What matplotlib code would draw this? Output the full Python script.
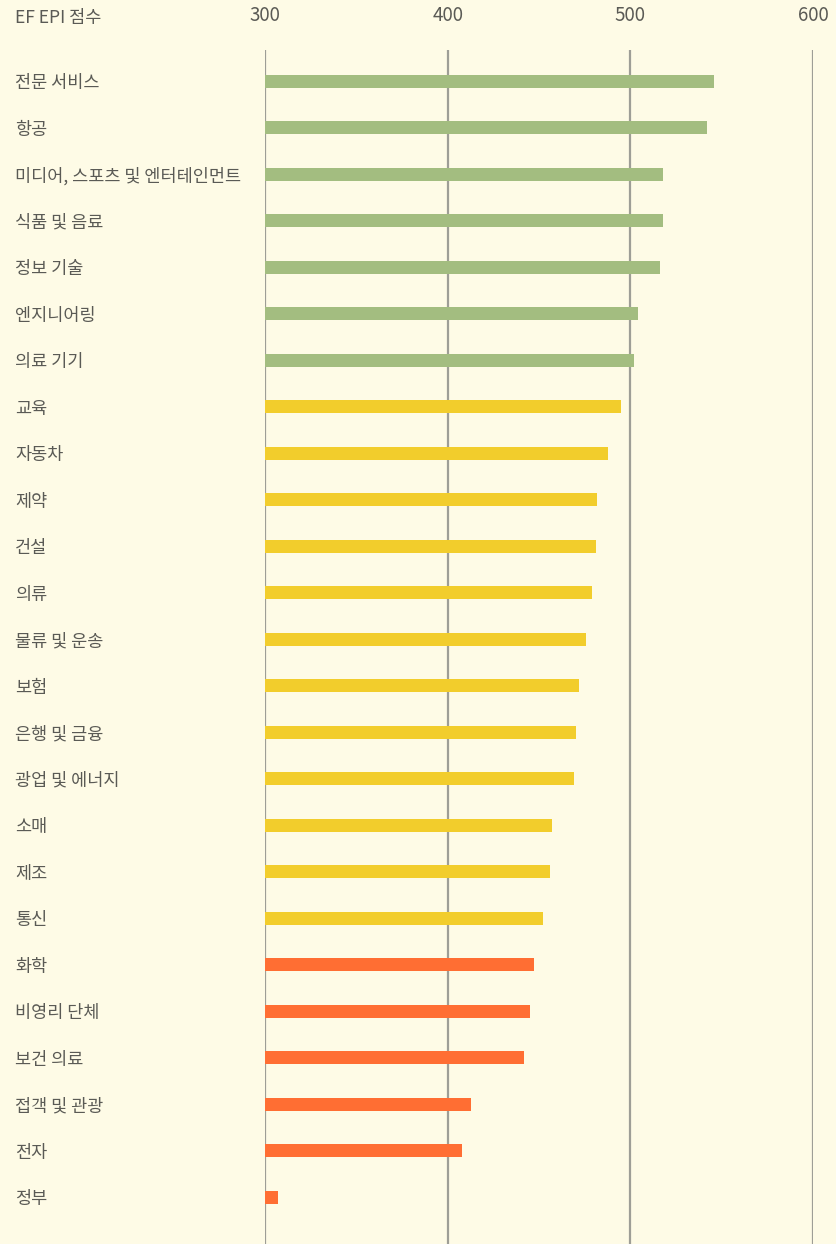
import matplotlib.pyplot as plt
import numpy as np

plt.rcParams['font.family'] = ['Noto Sans CJK KR', 'DejaVu Sans']

industries = ["전문 서비스", "항공", "미디어, 스포츠 및 엔터테인먼트", "식품 및 음료", "정보 기술",
              "엔지니어링", "의료 기기", "교육", "자동차", "제약", "건설", "의류", "물류 및 운송",
              "보험", "은행 및 금융", "광업 및 에너지", "소매", "제조", "통신", "화학",
              "비영리 단체", "보건 의료", "접객 및 관광", "전자", "정부"]
scores = [546, 542, 518, 518, 516, 504, 502, 495, 488, 482, 481, 479, 476,
          472, 470, 469, 457, 456, 452, 447, 445, 442, 413, 408, 307]
levels = ["high"] * 7 + ["mid"] * 12 + ["low"] * 6
ticks = [300, 400, 500, 600]

colors = {"high": "#A3BD80", "mid": "#F2CD2C", "low": "#FF6E33"}
bg = "#FEFBE6"
textc = "#5a5a55"

W, H = 836, 1244
fig = plt.figure(figsize=(W / 100, H / 100), dpi=100, facecolor=bg)
ax = fig.add_axes([265 / W, 0, (813 - 265) / W, (H - 50) / H], facecolor=bg)

ind = np.arange(len(industries))
ax.barh(ind, [s - 300 for s in scores], left=300, height=0.28,
        color=[colors[l] for l in levels], zorder=3)

for t in ticks:
    ax.axvline(t, color="#9E9E96", lw=1.6, zorder=2)

ax.set_xlim(300, 600)
ax.set_ylim(24 + 1.01, -0.67)
for s in ax.spines.values():
    s.set_visible(False)

ax.xaxis.tick_top()
ax.set_xticks(ticks)
ax.set_xticklabels([str(t) for t in ticks])
ax.tick_params(axis="x", length=0, pad=17, labelsize=13.5, labelcolor=textc)

ax.set_yticks(ind)
ax.set_yticklabels(industries)
ax.tick_params(axis="y", length=0, pad=180, labelsize=12.6, labelcolor=textc)
for lab in ax.get_yticklabels():
    lab.set_horizontalalignment("left")

fig.text(15 / W, 1 - 18 / H, "EF EPI 점수", ha="left", va="center",
         fontsize=12.6, color=textc)

fig.savefig("out.png", dpi=100, facecolor=bg)
